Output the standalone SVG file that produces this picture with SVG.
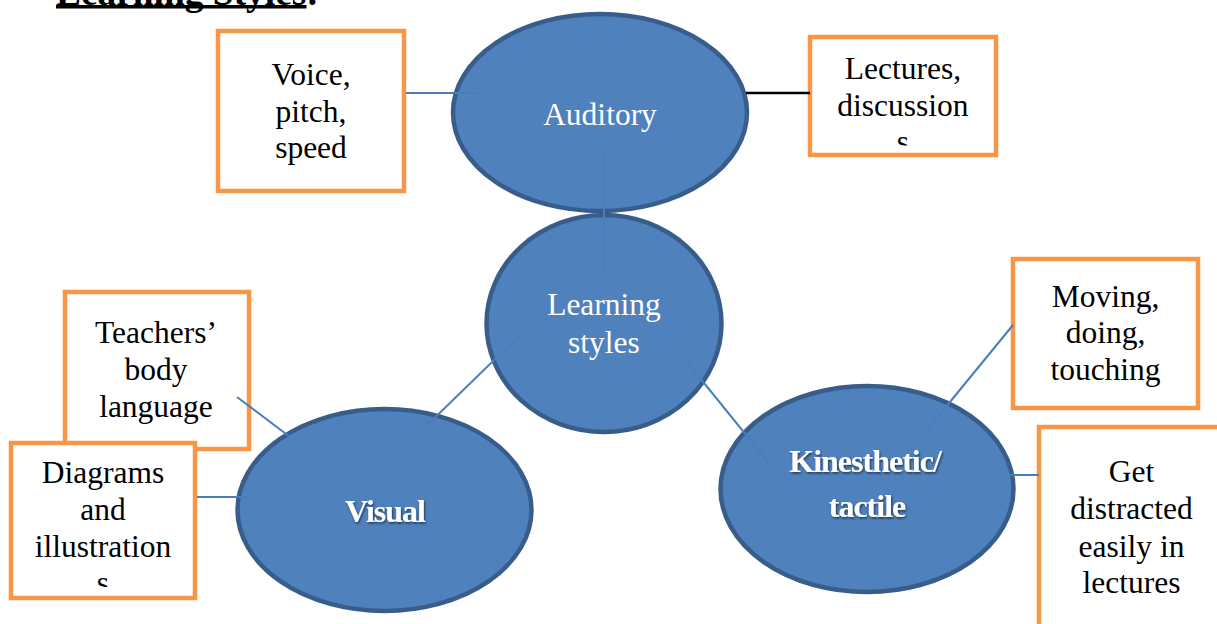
<svg xmlns="http://www.w3.org/2000/svg" width="1217" height="624" viewBox="0 0 1217 624">
  <defs>
    <style>
      .ell { fill: #4F81BD; stroke: #385D8A; stroke-width: 4.5; }
      .box { fill: #FFFFFF; stroke: #F79646; stroke-width: 4.5; }
      .bt { font-family: "Liberation Serif", "Tinos", "Times New Roman", "DejaVu Serif", serif; font-size: 31.5px; font-weight: 400; font-style: normal; fill: #000000; text-anchor: middle; }
      .et { font-family: "Liberation Serif", "Tinos", "Times New Roman", "DejaVu Serif", serif; font-size: 31.5px; font-weight: 400; font-style: normal; fill: #FFFFFF; text-anchor: middle; }
      .eb { font-family: "Liberation Serif", "Times New Roman", serif; font-size: 32px; font-weight: bold; fill: #FFFFFF; text-anchor: middle; letter-spacing: -1px; filter: url(#shadow); }
      .title { font-family: "Liberation Serif", "Times New Roman", serif; font-size: 37.4px; font-weight: bold; fill: #000000; }
      .con { stroke: #4A7EBB; stroke-width: 2; fill: none; }
      .conk { stroke: #000000; stroke-width: 2.5; fill: none; }
    </style>
    <filter id="shadow" x="-10%" y="-20%" width="120%" height="150%">
      <feDropShadow dx="1" dy="1.5" stdDeviation="1" flood-color="#000000" flood-opacity="0.6"/>
    </filter>
    <clipPath id="clipLect"><rect x="810" y="37" width="186" height="108.5"/></clipPath>
    <clipPath id="clipDiag"><rect x="11" y="443" width="184" height="144"/></clipPath>
  </defs>

  <g id="title">
    <text class="title" x="56" y="4.5">Learning Styles:</text>
    <rect x="56" y="5" width="250.5" height="3.5" fill="#000000"/>
  </g>

  <g id="node-voice">
    <rect class="box" x="218" y="31" width="186" height="160"/>
    <text class="bt" x="311" y="85">Voice,</text>
    <text class="bt" x="311" y="121.7">pitch,</text>
    <text class="bt" x="311" y="158">speed</text>
  </g>

  <g id="node-auditory">
    <ellipse class="ell" cx="600" cy="112.5" rx="147" ry="98.5"/>
    <text class="et" x="600" y="125">Auditory</text>
  </g>

  <g id="node-lectures">
    <rect class="box" x="810" y="37" width="186" height="118"/>
    <g clip-path="url(#clipLect)">
      <text class="bt" x="903" y="79.3">Lectures,</text>
      <text class="bt" x="903" y="115.5">discussion</text>
      <text class="bt" x="903" y="151.7">s</text>
    </g>
  </g>

  <g id="node-learning">
    <ellipse class="ell" cx="604" cy="323.5" rx="117.5" ry="108.5"/>
    <text class="et" x="604" y="315">Learning</text>
    <text class="et" x="604" y="352.5">styles</text>
  </g>

  <g id="node-teachers">
    <rect class="box" x="65" y="292" width="184" height="157"/>
    <text class="bt" x="156" y="343.3">Teachers’</text>
    <text class="bt" x="156" y="380">body</text>
    <text class="bt" x="156" y="416.7">language</text>
  </g>

  <g id="node-diagrams">
    <rect class="box" x="11" y="443" width="184" height="155"/>
    <g clip-path="url(#clipDiag)">
      <text class="bt" x="103" y="483">Diagrams</text>
      <text class="bt" x="103" y="520">and</text>
      <text class="bt" x="103" y="556.7">illustration</text>
      <text class="bt" x="103" y="593.4">s</text>
    </g>
  </g>

  <g id="node-visual">
    <ellipse class="ell" cx="384.5" cy="510" rx="147" ry="101"/>
    <text class="eb" x="385" y="521.7">Visual</text>
  </g>

  <g id="node-kinesthetic">
    <ellipse class="ell" cx="867" cy="489" rx="146.5" ry="103"/>
    <text class="eb" x="865" y="471.7">Kinesthetic/</text>
    <text class="eb" x="867" y="516.7">tactile</text>
  </g>

  <g id="node-moving">
    <rect class="box" x="1013" y="259" width="185" height="149"/>
    <text class="bt" x="1105.5" y="306.7">Moving,</text>
    <text class="bt" x="1105.5" y="343.3">doing,</text>
    <text class="bt" x="1105.5" y="380">touching</text>
  </g>

  <g id="node-get">
    <rect class="box" x="1039" y="427" width="185" height="220"/>
    <text class="bt" x="1131.5" y="481.7">Get</text>
    <text class="bt" x="1131.5" y="519.3">distracted</text>
    <text class="bt" x="1131.5" y="556.7">easily in</text>
    <text class="bt" x="1131.5" y="593.3">lectures</text>
  </g>

  <g id="connectors">
    <line class="con" x1="406" y1="93" x2="478" y2="93"/>
    <line class="conk" x1="746" y1="93" x2="810" y2="93"/>
    <line class="con" x1="604" y1="149" x2="604" y2="268" stroke-width="1.5"/>
    <line class="con" x1="520" y1="335" x2="417" y2="435" stroke-width="1.5"/>
    <line class="con" x1="683" y1="357" x2="772" y2="467" stroke-width="1.5"/>
    <line class="con" x1="237" y1="397" x2="290" y2="437" stroke-width="1.5"/>
    <line class="con" x1="197" y1="497" x2="250" y2="497"/>
    <line class="con" x1="927" y1="430" x2="1013" y2="325" stroke-width="1.5"/>
    <line class="con" x1="1008" y1="475" x2="1039" y2="475"/>
  </g>
</svg>
